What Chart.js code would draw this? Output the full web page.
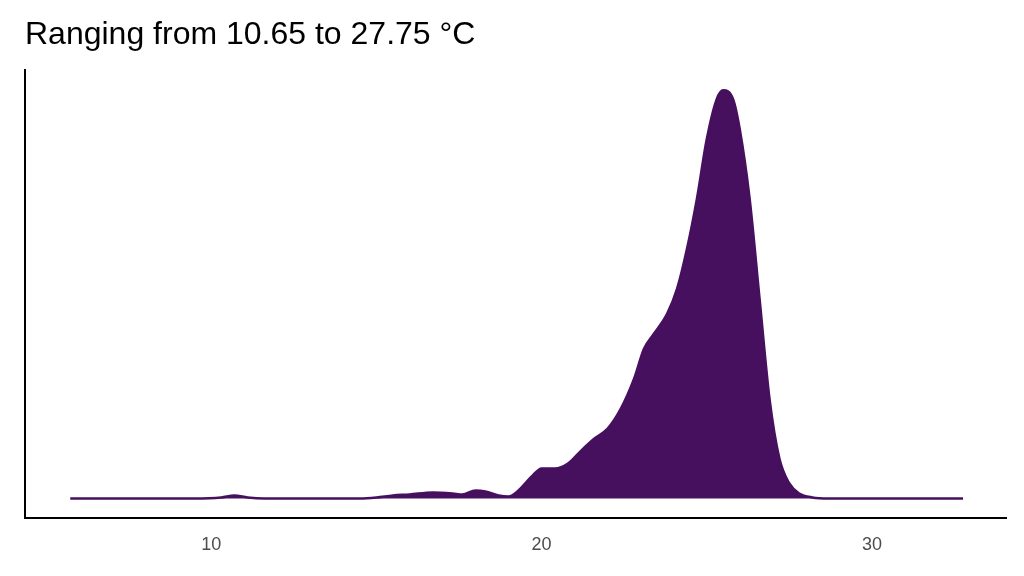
<!DOCTYPE html>
<html>
<head>
<script src="https://cdn.jsdelivr.net/npm/chart.js@4"></script>
<style>
  body { margin: 0; background: #fff; }
  #wrap { width: 1024px; height: 576px; }
</style>
</head>
<body>
<div id="wrap"><canvas id="myChart" width="1024" height="576"></canvas></div>
<script>
// temperature (°C) and relative density
const temps = [5.73, 9.5, 10.3, 10.7, 11.1, 11.6, 14.5, 15, 15.5, 16, 16.7, 17.3, 17.6, 18, 18.3, 18.7, 19.0, 19.3, 19.7, 20.0, 20.4, 20.8, 21.2, 21.6, 22.0, 22.4, 22.8, 23.1, 23.4, 23.8, 24.1, 24.4, 24.7, 25.0, 25.3, 25.5, 25.8, 26.0, 26.3, 26.6, 26.9, 27.2, 27.5, 27.8, 28.2, 28.7, 32.76]
const density = [0, 0, 1, 3, 1, 0, 0, 1, 3, 4, 6, 5, 4, 8, 7, 3, 2, 8, 22, 30, 30, 35, 48, 60, 70, 90, 120, 150, 165, 185, 210, 250, 300, 360, 400, 409, 400, 370, 300, 200, 100, 40, 15, 5, 1, 0, 0]
const xTicks = [10, 20, 30]

var ctx = document.getElementById("myChart").getContext("2d");

const puntos = temps.map((t, i) => ({x: t, y: density[i]}))

new Chart(ctx, {
    type: 'line',
    data: {
        datasets: [{
            data: puntos,
            borderColor: '#46105f',
            backgroundColor: '#46105f',
            borderWidth: 2.5,
            fill: 'origin',
            pointRadius: 0,
            cubicInterpolationMode: 'monotone'
        }]
    },
    options: {
        responsive: false,
        animation: false,
        layout: { padding: { left: 25, right: 18, top: 0, bottom: 10 } },
        plugins: {
            legend: { display: false },
            tooltip: { enabled: false },
            title: {
                display: true,
                text: 'Ranging from 10.65 to 27.75 °C',
                align: 'start',
                color: '#000',
                font: { family: 'Liberation Sans, Arial', size: 32, weight: 'normal' },
                padding: { top: 16, bottom: 16 }
            }
        },
        scales: {
            x: {
                type: 'linear',
                min: 4.36,
                max: 34.06,
                afterBuildTicks: (axis) => { axis.ticks = xTicks.map(v => ({value: v})) },
                grid: { display: false, drawTicks: true, tickLength: 6, color: '#333' },
                border: { color: '#000', width: 2 },
                ticks: { color: '#4d4d4d', font: { family: 'Liberation Sans, Arial', size: 18 }, padding: 10 }
            },
            y: {
                min: -20,
                max: 429,
                grid: { display: false, drawTicks: false },
                border: { color: '#000', width: 2 },
                ticks: { display: false }
            }
        }
    }
})
</script>
</body>
</html>
